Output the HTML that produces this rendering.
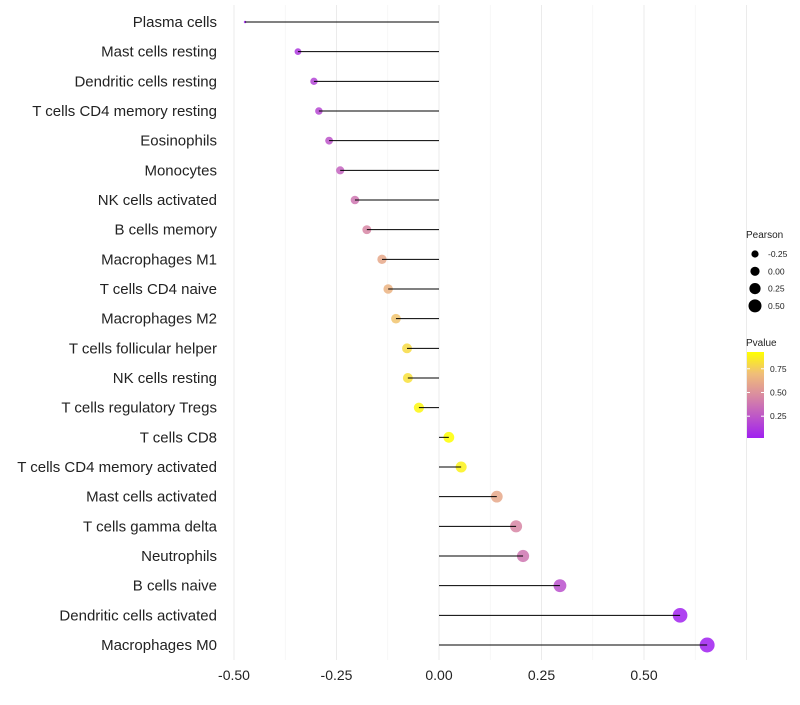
<!DOCTYPE html>
<html><head><meta charset="utf-8"><style>
body{margin:0;background:#fff;font-family:"Liberation Sans",sans-serif}
</style></head><body>
<svg id="c" width="800" height="700" xmlns="http://www.w3.org/2000/svg"></svg>
<script>
const categories=["Plasma cells","Mast cells resting","Dendritic cells resting","T cells CD4 memory resting","Eosinophils","Monocytes","NK cells activated","B cells memory","Macrophages M1","T cells CD4 naive","Macrophages M2","T cells follicular helper","NK cells resting","T cells regulatory  Tregs","T cells CD8","T cells CD4 memory activated","Mast cells activated","T cells gamma delta","Neutrophils","B cells naive","Dendritic cells activated","Macrophages M0"];
const pearson=[-0.473,-0.344,-0.305,-0.293,-0.268,-0.241,-0.205,-0.176,-0.139,-0.124,-0.105,-0.078,-0.076,-0.049,0.024,0.054,0.141,0.188,0.205,0.295,0.588,0.654];
const pvalue=[0.02,0.12,0.17,0.19,0.24,0.3,0.38,0.45,0.6,0.65,0.72,0.8,0.82,0.9,0.93,0.88,0.6,0.45,0.38,0.22,0.03,0.02];
const xTicks=[-0.5,-0.25,0,0.25,0.5];
const xTickLabels=["-0.50","-0.25","0.00","0.25","0.50"];
const sizeLegend=[-0.25,0,0.25,0.5];
const colorTicks=[0.25,0.5,0.75];

const NS="http://www.w3.org/2000/svg";
const svg=document.getElementById('c');
function el(t,a,p){const e=document.createElementNS(NS,t);for(const k in a)e.setAttribute(k,a[k]);(p||svg).appendChild(e);return e;}
const x=v=>439+v*410;
const y=i=>22+i*(645-22)/21;
const pmn=Math.min(...pearson),pmx=Math.max(...pearson);
const r=v=>{const t=Math.max(0,(v-pmn)/(pmx-pmn));return 1.25*(1+5*Math.sqrt(t));};
const stops=[[0,[160,32,240]],[0.5,[218,140,160]],[0.75,[240,190,120]],[1,[255,255,0]]];
const pmin=0.02,pmax=0.927;
function col(p){let t=(p-pmin)/(pmax-pmin);t=Math.max(0,Math.min(1,t));
for(let i=1;i<stops.length;i++){if(t<=stops[i][0]){const a=stops[i-1],b=stops[i];const f=(t-a[0])/(b[0]-a[0]);
return 'rgb('+a[1].map((c,j)=>Math.round(c+(b[1][j]-c)*f)).join(',')+')';}}return 'rgb(255,255,0)';}

// grid
for(let v=-0.5;v<=0.75;v+=0.125){
 const major=Math.abs(v*4-Math.round(v*4))<1e-6;
 const g=el('line',{x1:x(v),x2:x(v),y1:5,y2:660,stroke:major?'#ebebeb':'#f3f3f3','stroke-width':major?1:0.6});
 
}
xTicks.forEach((v,i)=>{const t=el('text',{x:x(v),y:680,'text-anchor':'middle','font-size':14,fill:'#222'});t.textContent=xTickLabels[i];
});
categories.forEach((c,i)=>{
 const t=el('text',{x:217,y:y(i)+5,'text-anchor':'end','font-size':15,fill:'#222','xml:space':'preserve'});t.textContent=c;
 
 const d=el('circle',{cx:x(pearson[i]),cy:y(i),r:r(pearson[i]),fill:col(pvalue[i]),'fill-opacity':0.85});
 
 const l=el('line',{x1:x(0),x2:x(pearson[i]),y1:y(i),y2:y(i),stroke:'#000','stroke-width':1});
 
});
// size legend
let t=el('text',{x:746,y:238,'font-size':10,fill:'#222'});t.textContent='Pearson';

const lr=[3.6,4.6,5.6,6.5];
sizeLegend.forEach((v,i)=>{const cy=254+i*17.3;
 const c=el('circle',{cx:755,cy:cy,r:lr[i],fill:'#000'});
 const tt=el('text',{x:768,y:cy+3,'font-size':8.5,fill:'#222'});tt.textContent=v.toFixed(2);
 });
// color legend
t=el('text',{x:746,y:346,'font-size':10,fill:'#222'});t.textContent='Pvalue';

const defs=el('defs',{});const lg=el('linearGradient',{id:'g',x1:0,y1:1,x2:0,y2:0},defs);
stops.forEach(s=>el('stop',{offset:s[0],'stop-color':'rgb('+s[1].join(',')+')'},lg));
const cb=el('rect',{x:747,y:352,width:17,height:86,fill:'url(#g)'});

const cy=p=>438-(p-pmin)/(pmax-pmin)*86;
colorTicks.forEach(p=>{
 el('line',{x1:747,x2:750,y1:cy(p),y2:cy(p),stroke:'#fff'});el('line',{x1:761,x2:764,y1:cy(p),y2:cy(p),stroke:'#fff'});
 const tt=el('text',{x:770,y:cy(p)+3,'font-size':8.5,fill:'#222'});tt.textContent=p.toFixed(2);
 });
</script>
</body></html>
